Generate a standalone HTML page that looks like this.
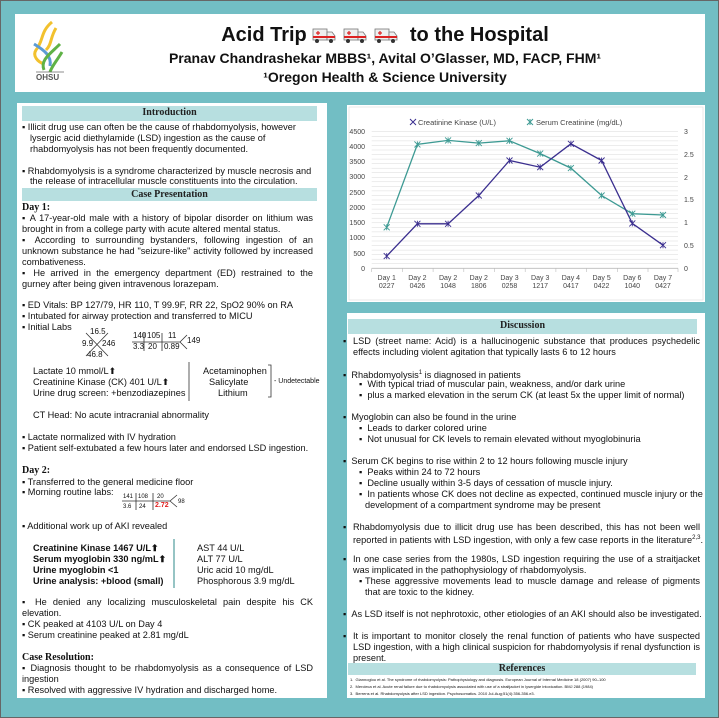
<!DOCTYPE html>
<html><head><meta charset="utf-8"><style>
*{margin:0;padding:0;box-sizing:border-box}
body{width:719px;height:718px;position:relative;background:#72bec4;overflow:hidden;font-family:"Liberation Sans",sans-serif;color:#111}
#frame{position:absolute;left:0;top:0;width:719px;height:718px;border:1px solid #666}
.p{position:absolute;background:#fff}
.h{position:absolute;background:#b7dfe0;font:bold 10px/14px "Liberation Serif",serif;text-align:center;color:#222}
.l{position:absolute;font-size:9.2px;line-height:11px;white-space:nowrap}
.j{text-align:justify;text-align-last:justify}
.s{position:absolute;font-family:"Liberation Serif",serif;font-weight:bold;font-size:10px;line-height:11px}
.t{position:absolute;font-size:7px;line-height:8px;white-space:nowrap}
</style></head><body>
<div id="frame"></div>
<!-- header -->
<div class="p" style="left:15px;top:14px;width:690px;height:78px"></div>
<div class="l" style="left:0;width:770px;top:23px;text-align:center;font-size:20px;line-height:24px;font-weight:bold">Acid Trip <svg width="92" height="16" viewBox="0 0 92 16" style="vertical-align:-2px">
<g id="amb">
<rect x="1" y="2" width="14" height="11" fill="#eee" stroke="#777" stroke-width="0.8"/>
<path d="M15 5 L20 5 L23 9 L23 13 L15 13Z" fill="#eee" stroke="#777" stroke-width="0.8"/>
<rect x="1" y="9" width="22" height="2" fill="#d22"/>
<path d="M6 4v4M4 6h4" stroke="#d22" stroke-width="1.2"/>
<circle cx="5" cy="14" r="2" fill="#333"/><circle cx="19" cy="14" r="2" fill="#333"/>
</g>
<use href="#amb" x="31"/><use href="#amb" x="62"/></svg> to the Hospital</div>
<div class="l" style="left:0;width:770px;top:50px;text-align:center;font-size:14px;line-height:16px;font-weight:bold">Pranav Chandrashekar MBBS¹, Avital O’Glasser, MD, FACP, FHM¹</div>
<div class="l" style="left:0;width:770px;top:69px;text-align:center;font-size:14px;line-height:16px;font-weight:bold">¹Oregon Health &amp; Science University</div>
<div class="t" style="left:36px;top:74px;font-size:8px;font-weight:bold;color:#555">OHSU</div>

<!-- panels -->
<div class="p" style="left:17px;top:103px;width:310px;height:595px"></div>
<div class="p" style="left:347px;top:105px;width:358px;height:197px"></div>
<div class="p" style="left:347px;top:313px;width:358px;height:385px"></div>

<!-- Left column -->
<div class="h" style="left:22px;top:106px;width:295px;height:15px">Introduction</div>
<div class="l" style="left:22px;top:122px">▪ Illicit drug use can often be the cause of rhabdomyolysis, however</div>
<div class="l" style="left:30px;top:133px">lysergic acid diethylamide (LSD) ingestion as the cause of</div>
<div class="l" style="left:30px;top:144px">rhabdomyolysis has not been frequently documented.</div>
<div class="l" style="left:22px;top:166px">▪ Rhabdomyolysis is a syndrome characterized by muscle necrosis and</div>
<div class="l" style="left:30px;top:176px">the release of intracellular muscle constituents into the circulation.</div>
<div class="h" style="left:22px;top:188px;width:295px;height:13px;line-height:13px">Case Presentation</div>
<div class="s" style="left:22px;top:202px">Day 1:</div>
<div class="l j" style="left:22px;top:213px;width:291px">▪  A 17-year-old male with a history of bipolar disorder on lithium was</div>
<div class="l" style="left:22px;top:224px">brought in from a college party with acute altered mental status.</div>
<div class="l j" style="left:22px;top:235px;width:291px">▪ According to surrounding bystanders, following ingestion of an</div>
<div class="l j" style="left:22px;top:246px;width:291px">unknown substance he had "seizure-like" activity followed by increased</div>
<div class="l" style="left:22px;top:257px">combativeness.</div>
<div class="l j" style="left:22px;top:268px;width:291px">▪ He arrived in the emergency department (ED) restrained to the</div>
<div class="l" style="left:22px;top:279px">gurney after being given intravenous lorazepam.</div>
<div class="l" style="left:22px;top:300px">▪  ED Vitals: BP 127/79, HR 110, T 99.9F, RR 22, SpO2 90% on RA</div>
<div class="l" style="left:22px;top:311px">▪  Intubated for airway protection and transferred to MICU</div>
<div class="l" style="left:22px;top:322px">▪  Initial Labs</div>
<div class="t" style="left:90px;top:328px;font-size:8px">16.5</div>
<div class="t" style="left:82px;top:340px;font-size:8px">9.9</div>
<div class="t" style="left:102px;top:340px;font-size:8px">246</div>
<div class="t" style="left:87px;top:351px;font-size:8px">46.8</div>
<div class="t" style="left:133px;top:332px;font-size:8px">140</div>
<div class="t" style="left:147px;top:332px;font-size:8px">105</div>
<div class="t" style="left:168px;top:332px;font-size:8px">11</div>
<div class="t" style="left:133px;top:343px;font-size:8px">3.3</div>
<div class="t" style="left:148px;top:343px;font-size:8px">20</div>
<div class="t" style="left:164px;top:343px;font-size:8px">0.89</div>
<div class="t" style="left:187px;top:337px;font-size:8px">149</div>
<div class="l" style="left:33px;top:366px">Lactate 10 mmol/L⬆</div>
<div class="l" style="left:33px;top:377px">Creatinine Kinase (CK) 401 U/L⬆</div>
<div class="l" style="left:33px;top:388px">Urine drug screen: +benzodiazepines</div>
<div class="l" style="left:203px;top:366px">Acetaminophen</div>
<div class="l" style="left:209px;top:377px">Salicylate</div>
<div class="l" style="left:218px;top:388px">Lithium</div>
<div class="t" style="left:274px;top:378px">- Undetectable</div>
<div class="l" style="left:33px;top:410px">CT Head: No acute intracranial abnormality</div>
<div class="l" style="left:22px;top:432px">▪  Lactate normalized with IV hydration</div>
<div class="l" style="left:22px;top:443px">▪  Patient self-extubated a few hours later and endorsed LSD ingestion.</div>
<div class="s" style="left:22px;top:465px">Day 2:</div>
<div class="l" style="left:22px;top:477px">▪  Transferred to the general medicine floor</div>
<div class="l" style="left:22px;top:487px">▪  Morning routine labs:</div>
<div class="t" style="left:123px;top:493px;font-size:6px">141</div>
<div class="t" style="left:138px;top:493px;font-size:6px">108</div>
<div class="t" style="left:157px;top:493px;font-size:6px">20</div>
<div class="t" style="left:123px;top:503px;font-size:6px">3.6</div>
<div class="t" style="left:139px;top:503px;font-size:6px">24</div>
<div class="t" style="left:155px;top:502px;font-size:7px;font-weight:bold;color:#e02020">2.72</div>
<div class="t" style="left:178px;top:498px;font-size:6px">98</div>
<div class="l" style="left:22px;top:521px">▪  Additional work up of AKI revealed</div>
<div class="l" style="left:33px;top:543px;font-weight:bold">Creatinine Kinase 1467 U/L⬆</div>
<div class="l" style="left:33px;top:554px;font-weight:bold">Serum myoglobin 330 ng/mL⬆</div>
<div class="l" style="left:33px;top:565px;font-weight:bold">Urine myoglobin &lt;1</div>
<div class="l" style="left:33px;top:576px;font-weight:bold">Urine analysis:  +blood (small)</div>
<div class="l" style="left:197px;top:543px">AST 44 U/L</div>
<div class="l" style="left:197px;top:554px">ALT 77 U/L</div>
<div class="l" style="left:197px;top:565px">Uric acid 10 mg/dL</div>
<div class="l" style="left:197px;top:576px">Phosphorous 3.9 mg/dL</div>
<div class="l j" style="left:22px;top:597px;width:291px">▪ He denied any localizing musculoskeletal pain despite his CK</div>
<div class="l" style="left:22px;top:608px">elevation.</div>
<div class="l" style="left:22px;top:619px">▪  CK peaked at 4103 U/L on Day 4</div>
<div class="l" style="left:22px;top:630px">▪  Serum creatinine peaked at 2.81 mg/dL</div>
<div class="s" style="left:22px;top:652px">Case Resolution:</div>
<div class="l j" style="left:22px;top:663px;width:291px">▪ Diagnosis thought to be rhabdomyolysis as a consequence of LSD</div>
<div class="l" style="left:22px;top:674px">ingestion</div>
<div class="l" style="left:22px;top:685px">▪  Resolved with aggressive IV hydration and discharged home.</div>

<!-- Discussion -->
<div class="h" style="left:348px;top:319px;width:349px;height:15px">Discussion</div>
<div class="l" style="left:343px;top:336px">▪</div><div class="l j" style="left:353px;top:336px;width:347px">LSD (street name: Acid) is a hallucinogenic substance that produces psychedelic</div>
<div class="l" style="left:353px;top:347px">effects including violent agitation that typically lasts 6 to 12 hours</div>
<div class="l" style="left:343px;top:368px">▪ &nbsp;Rhabdomyolysis<sup style="font-size:6px">1</sup> is diagnosed in patients</div>
<div class="l" style="left:359px;top:379px">▪ &nbsp;With typical triad of muscular pain, weakness, and/or dark urine</div>
<div class="l" style="left:359px;top:390px">▪ &nbsp;plus a marked elevation in the serum CK (at least 5x the upper limit of normal)</div>
<div class="l" style="left:343px;top:412px">▪ &nbsp;Myoglobin can also be found in the urine</div>
<div class="l" style="left:359px;top:423px">▪ &nbsp;Leads to darker colored urine</div>
<div class="l" style="left:359px;top:434px">▪ &nbsp;Not unusual for CK levels to remain elevated without myoglobinuria</div>
<div class="l" style="left:343px;top:456px">▪ &nbsp;Serum CK begins to rise within 2 to 12 hours following muscle injury</div>
<div class="l" style="left:359px;top:467px">▪ &nbsp;Peaks within 24 to 72 hours</div>
<div class="l" style="left:359px;top:478px">▪ &nbsp;Decline usually within 3-5 days of cessation of muscle injury.</div>
<div class="l" style="left:359px;top:489px">▪ &nbsp;In patients whose CK does not decline as expected, continued muscle injury or the</div>
<div class="l" style="left:365px;top:500px">development of a compartment syndrome may be present</div>
<div class="l" style="left:343px;top:522px">▪</div><div class="l j" style="left:353px;top:522px;width:347px">Rhabdomyolysis due to illicit drug use has been described, this has not been well</div>
<div class="l" style="left:353px;top:533px">reported in patients with LSD ingestion, with only a few case reports in the literature<sup style="font-size:6px">2,3</sup>.</div>
<div class="l" style="left:343px;top:554px">▪</div><div class="l j" style="left:353px;top:554px;width:347px">In one case series from the 1980s, LSD ingestion requiring the use of a straitjacket</div>
<div class="l" style="left:353px;top:565px">was implicated in the pathophysiology of rhabdomyolysis.</div>
<div class="l" style="left:359px;top:576px">▪</div><div class="l j" style="left:365px;top:576px;width:335px">These aggressive movements lead to muscle damage and release of pigments</div>
<div class="l" style="left:365px;top:587px">that are toxic to the kidney.</div>
<div class="l" style="left:343px;top:609px">▪ &nbsp;As LSD itself is not nephrotoxic, other etiologies of an AKI should also be investigated.</div>
<div class="l" style="left:343px;top:631px">▪</div><div class="l j" style="left:353px;top:631px;width:347px">It is important to monitor closely the renal function of patients who have suspected</div>
<div class="l j" style="left:353px;top:642px;width:347px">LSD ingestion, with a high clinical suspicion for rhabdomyolysis if renal dysfunction is</div>
<div class="l" style="left:353px;top:653px">present.</div>
<div class="h" style="left:348px;top:663px;width:348px;height:12px;line-height:12px">References</div>
<div class="t" style="left:350px;top:677px;font-size:4px;line-height:5px">1.&nbsp; Giannoglou et al. The syndrome of rhabdomyolysis: Pathophysiology and diagnosis. European Journal of Internal Medicine 18 (2007) 90–100</div>
<div class="t" style="left:350px;top:684px;font-size:4px;line-height:5px">2.&nbsp; Mercieca et al. Acute renal failure due to rhabdomyolysis associated with use of a straitjacket in lysergide intoxication. BMJ 288 (1984)</div>
<div class="t" style="left:350px;top:691px;font-size:4px;line-height:5px">3.&nbsp; Berrens et al. Rhabdomyolysis after LSD ingestion. Psychosomatics. 2010 Jul-Aug;51(4):356-356.e3.</div>

<svg width="719" height="718" style="position:absolute;left:0;top:0" xmlns="http://www.w3.org/2000/svg">
<!-- logo -->
<g fill="none" stroke-width="3">
<path d="M52 22 C40 32 44 40 36 50 C32 56 38 62 44 64" stroke="#f2c12e"/>
<path d="M56 28 C50 38 52 44 46 50" stroke="#f2c12e"/>
<path d="M34 44 C44 50 52 56 50 66" stroke="#5b9bd5"/>
<path d="M60 44 C50 54 40 60 44 70 M62 52 C56 62 52 66 50 72" stroke="#5fb246"/>
</g>
<line x1="36" y1="72" x2="64" y2="72" stroke="#666" stroke-width="0.8"/>
<!-- CBC fishbone -->
<path d="M86 333 L108 356 M108 333 L86 356" stroke="#333" stroke-width="0.8"/>
<!-- BMP -->
<path d="M132 342 H180 L187 335 M180 342 L187 349 M144 333 V351 M162 333 V351" stroke="#333" stroke-width="0.8" fill="none"/>
<path d="M189 362 V401" stroke="#333" stroke-width="0.8"/>
<path d="M268 365 H271 V397 H268" stroke="#333" stroke-width="0.8" fill="none"/>
<path d="M122 501 H170 L177 495 M170 501 L177 507 M136 493 V510 M153 493 V510" stroke="#333" stroke-width="0.8" fill="none"/>
<path d="M174 539 V588" stroke="#2e8a8a" stroke-width="1"/>
<!-- chart -->
<rect x="349" y="107" width="354" height="193" fill="none" stroke="#ddd" stroke-width="0.6"/>
<g stroke="#d9d9d9" stroke-width="0.5">
<line x1="371.7" x2="678" y1="263.75" y2="263.75"/><line x1="371.7" x2="678" y1="259.2" y2="259.2"/><line x1="371.7" x2="678" y1="254.6" y2="254.6"/><line x1="371.7" x2="678" y1="250.1" y2="250.1"/><line x1="371.7" x2="678" y1="245.5" y2="245.5"/><line x1="371.7" x2="678" y1="241.0" y2="241.0"/><line x1="371.7" x2="678" y1="236.4" y2="236.4"/><line x1="371.7" x2="678" y1="231.9" y2="231.9"/><line x1="371.7" x2="678" y1="227.3" y2="227.3"/><line x1="371.7" x2="678" y1="222.8" y2="222.8"/><line x1="371.7" x2="678" y1="218.2" y2="218.2"/><line x1="371.7" x2="678" y1="213.7" y2="213.7"/><line x1="371.7" x2="678" y1="209.1" y2="209.1"/><line x1="371.7" x2="678" y1="204.6" y2="204.6"/><line x1="371.7" x2="678" y1="200.0" y2="200.0"/><line x1="371.7" x2="678" y1="195.5" y2="195.5"/><line x1="371.7" x2="678" y1="190.9" y2="190.9"/><line x1="371.7" x2="678" y1="186.4" y2="186.4"/><line x1="371.7" x2="678" y1="181.8" y2="181.8"/><line x1="371.7" x2="678" y1="177.3" y2="177.3"/><line x1="371.7" x2="678" y1="172.7" y2="172.7"/><line x1="371.7" x2="678" y1="168.2" y2="168.2"/><line x1="371.7" x2="678" y1="163.6" y2="163.6"/><line x1="371.7" x2="678" y1="159.1" y2="159.1"/><line x1="371.7" x2="678" y1="154.5" y2="154.5"/><line x1="371.7" x2="678" y1="150.0" y2="150.0"/><line x1="371.7" x2="678" y1="145.4" y2="145.4"/><line x1="371.7" x2="678" y1="140.9" y2="140.9"/><line x1="371.7" x2="678" y1="136.3" y2="136.3"/><line x1="371.7" x2="678" y1="131.7" y2="131.7"/>
</g>
<line x1="371.7" x2="678" y1="268.3" y2="268.3" stroke="#bbb" stroke-width="0.8"/>
<g stroke="#bbb" stroke-width="0.6">
<line x1="371.7" x2="371.7" y1="268.3" y2="272"/><line x1="402.4" x2="402.4" y1="268.3" y2="272"/><line x1="433.1" x2="433.1" y1="268.3" y2="272"/><line x1="463.8" x2="463.8" y1="268.3" y2="272"/><line x1="494.5" x2="494.5" y1="268.3" y2="272"/><line x1="525.2" x2="525.2" y1="268.3" y2="272"/><line x1="555.9" x2="555.9" y1="268.3" y2="272"/><line x1="586.6" x2="586.6" y1="268.3" y2="272"/><line x1="617.3" x2="617.3" y1="268.3" y2="272"/><line x1="648" x2="648" y1="268.3" y2="272"/><line x1="678" x2="678" y1="268.3" y2="272"/>
</g>
<g font-family="Liberation Sans" font-size="7" fill="#444" text-anchor="end">
<text x="365" y="134">4500</text><text x="365" y="149">4000</text><text x="365" y="164">3500</text><text x="365" y="179">3000</text><text x="365" y="195">2500</text><text x="365" y="210">2000</text><text x="365" y="225">1500</text><text x="365" y="240">1000</text><text x="365" y="256">500</text><text x="365" y="271">0</text>
</g>
<g font-family="Liberation Sans" font-size="7" fill="#444">
<text x="684" y="134">3</text><text x="684" y="157">2.5</text><text x="684" y="180">2</text><text x="684" y="202">1.5</text><text x="684" y="225">1</text><text x="684" y="248">0.5</text><text x="684" y="271">0</text>
</g>
<g font-family="Liberation Sans" font-size="7" fill="#444" text-anchor="middle">
<text x="386.7" y="280">Day 1</text><text x="386.7" y="288">0227</text>
<text x="417.4" y="280">Day 2</text><text x="417.4" y="288">0426</text>
<text x="448.1" y="280">Day 2</text><text x="448.1" y="288">1048</text>
<text x="478.8" y="280">Day 2</text><text x="478.8" y="288">1806</text>
<text x="509.5" y="280">Day 3</text><text x="509.5" y="288">0258</text>
<text x="540.2" y="280">Day 3</text><text x="540.2" y="288">1217</text>
<text x="570.9" y="280">Day 4</text><text x="570.9" y="288">0417</text>
<text x="601.6" y="280">Day 5</text><text x="601.6" y="288">0422</text>
<text x="632.3" y="280">Day 6</text><text x="632.3" y="288">1040</text>
<text x="663" y="280">Day 7</text><text x="663" y="288">0427</text>
</g>
<g font-family="Liberation Sans" font-size="7.5" fill="#444">
<text x="418" y="125">Creatinine Kinase (U/L)</text>
<text x="536" y="125">Serum Creatinine (mg/dL)</text>
</g>
<path d="M410 119l6 6m0-6l-6 6" stroke="#3b2f8f" stroke-width="1"/>
<path d="M527 119l6 6m0-6l-6 6m3-6v6" stroke="#3d9a93" stroke-width="1"/>
<polyline fill="none" stroke="#3d9a93" stroke-width="1.3" points="386.7,227.3 417.4,144.4 448.1,140.4 478.8,143.1 509.5,140.8 540.2,153.6 570.9,168.1 601.6,195.5 632.3,213.7 663,215"/>
<polyline fill="none" stroke="#3b2f8f" stroke-width="1.3" points="386.7,256.1 417.4,223.8 448.1,223.8 478.8,195.5 509.5,160.5 540.2,167.2 570.9,143.8 601.6,160.5 632.3,223.4 663,245.2"/>
<g stroke="#3d9a93" stroke-width="0.9" fill="none">
<path d="M383.7 224.3l6 6m0-6l-6 6m3-6v6"/><path d="M414.4 141.4l6 6m0-6l-6 6m3-6v6"/><path d="M445.1 137.4l6 6m0-6l-6 6m3-6v6"/><path d="M475.8 140.1l6 6m0-6l-6 6m3-6v6"/><path d="M506.5 137.8l6 6m0-6l-6 6m3-6v6"/><path d="M537.2 150.6l6 6m0-6l-6 6m3-6v6"/><path d="M567.9 165.1l6 6m0-6l-6 6m3-6v6"/><path d="M598.6 192.5l6 6m0-6l-6 6m3-6v6"/><path d="M629.3 210.7l6 6m0-6l-6 6m3-6v6"/><path d="M660 212l6 6m0-6l-6 6m3-6v6"/>
</g>
<g stroke="#3b2f8f" stroke-width="0.9" fill="none">
<path d="M383.7 253.1l6 6m0-6l-6 6m3-6v6"/><path d="M414.4 220.8l6 6m0-6l-6 6m3-6v6"/><path d="M445.1 220.8l6 6m0-6l-6 6m3-6v6"/><path d="M475.8 192.5l6 6m0-6l-6 6m3-6v6"/><path d="M506.5 157.5l6 6m0-6l-6 6m3-6v6"/><path d="M537.2 164.2l6 6m0-6l-6 6m3-6v6"/><path d="M567.9 140.8l6 6m0-6l-6 6m3-6v6"/><path d="M598.6 157.5l6 6m0-6l-6 6m3-6v6"/><path d="M629.3 220.4l6 6m0-6l-6 6m3-6v6"/><path d="M660 242.2l6 6m0-6l-6 6m3-6v6"/>
</g>
</svg>
</body></html>
